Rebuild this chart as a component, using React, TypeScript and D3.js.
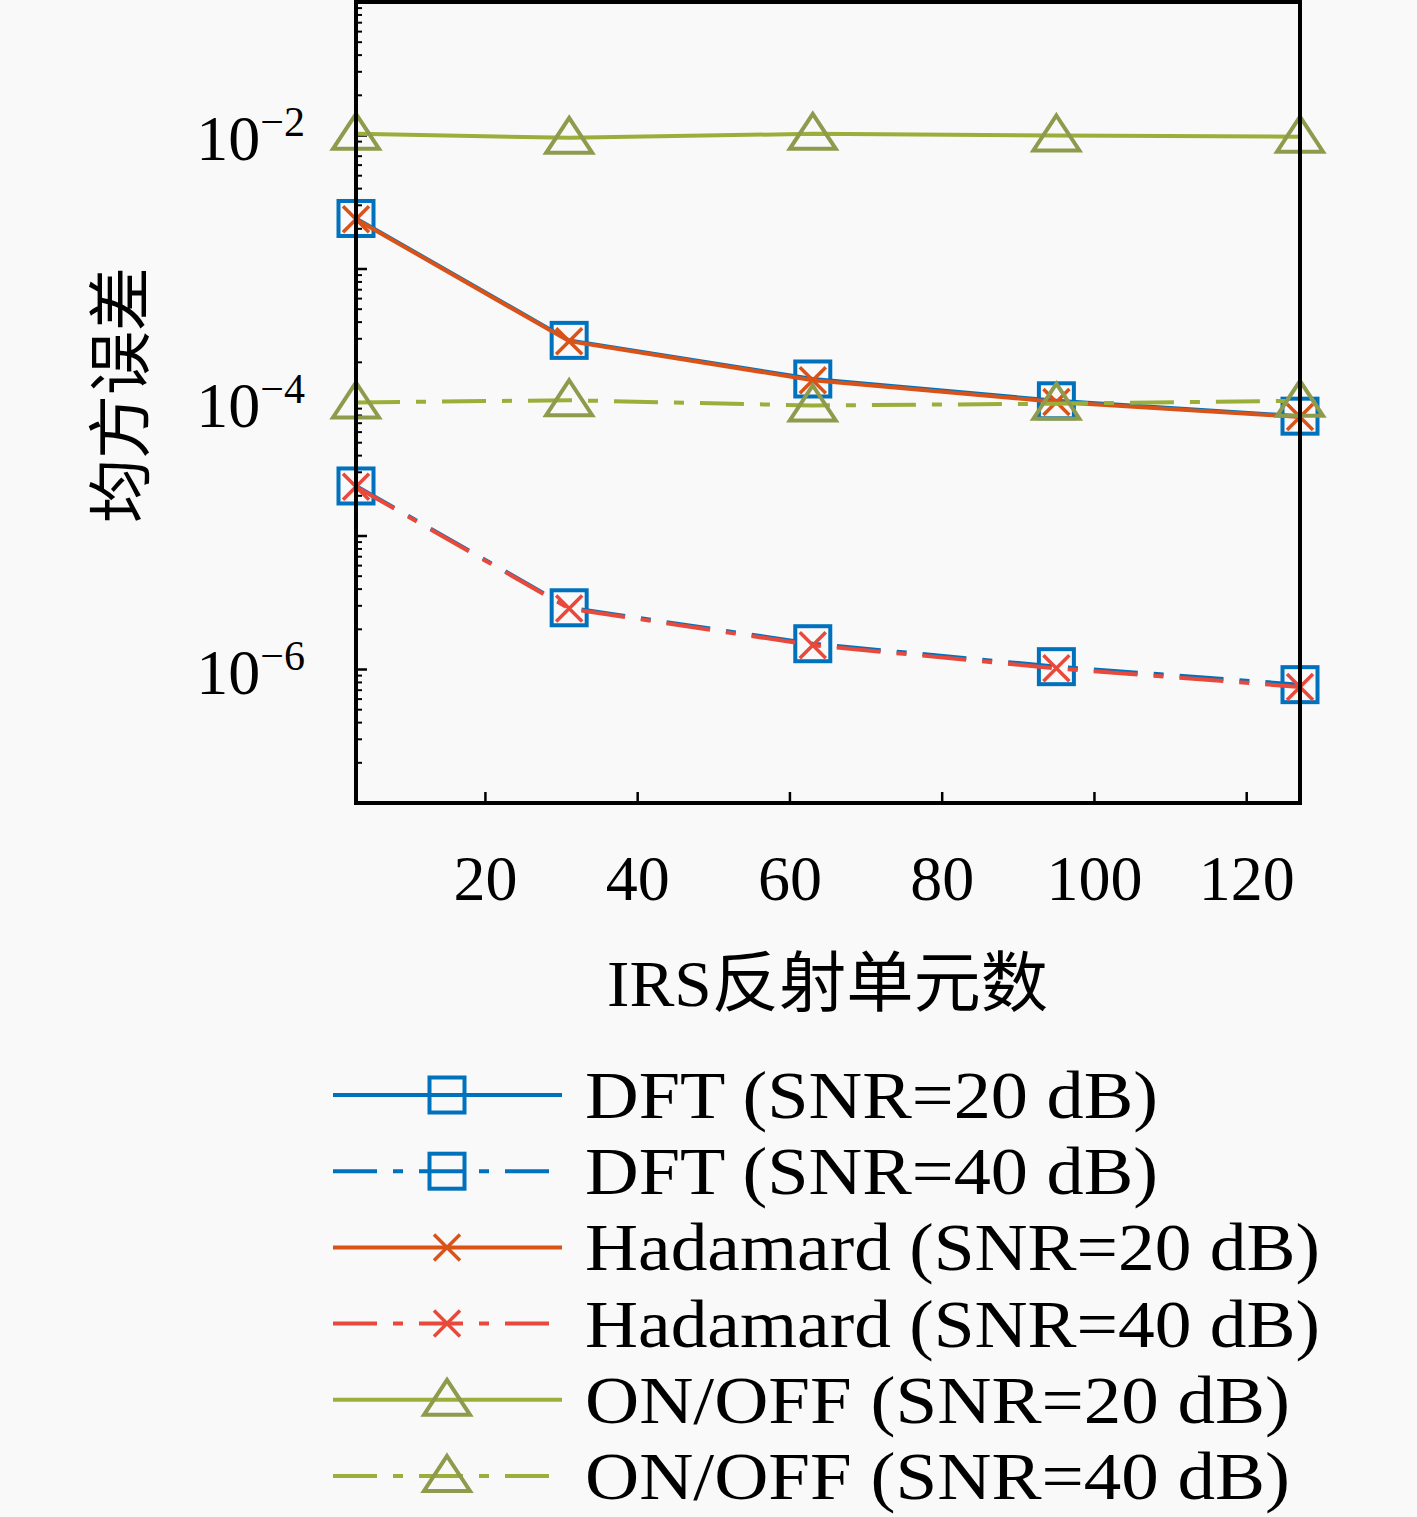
import React from "react";
import * as d3 from "d3";

// IRS reflecting elements
const elements = [3, 31, 63, 95, 127];

const dft20 = [2.39e-3, 2.92e-4, 1.5e-4, 1.03e-4, 7.9e-5];
const dft40 = [2.37e-5, 2.9e-6, 1.56e-6, 1.05e-6, 7.7e-7];
const had20 = [2.36e-3, 2.88e-4, 1.47e-4, 1.01e-4, 7.8e-5];
const had40 = [2.34e-5, 2.86e-6, 1.52e-6, 1.02e-6, 7.4e-7];
const onoff20 = [1.03e-2, 0.96e-2, 1.03e-2, 1.0e-2, 0.98e-2];
const onoff40 = [1.0e-4, 1.04e-4, 0.95e-4, 0.98e-4, 1.03e-4];

const xTicks = [20, 40, 60, 80, 100, 120];
const yLabelExps = [-2, -4, -6];

const series = [
	{ name: "DFT (SNR=20 dB)", values: dft20, color: "#0072BD", marker: "square", dashed: false },
	{ name: "DFT (SNR=40 dB)", values: dft40, color: "#0072BD", marker: "square", dashed: true },
	{ name: "Hadamard (SNR=20 dB)", values: had20, color: "#D95319", marker: "cross", dashed: false },
	{ name: "Hadamard (SNR=40 dB)", values: had40, color: "#E8493A", marker: "cross", dashed: true },
	{ name: "ON/OFF (SNR=20 dB)", values: onoff20, color: "#9BAE3A", marker: "triangle", dashed: false },
	{ name: "ON/OFF (SNR=40 dB)", values: onoff40, color: "#9BAE3A", marker: "triangle", dashed: true },
];
// rendered widths of the legend labels in the reference
const legendWidths = [573, 573, 735, 735, 705, 705];

const W = 1417;
const H = 1517;
const plot = { left: 356, right: 1300, top: 2, bottom: 803 };
const serif = "'Liberation Serif', 'DejaVu Serif', serif";
const cjk = "'Noto Sans CJK SC', sans-serif";
const dash = "44,16,10,16";

const Marker = ({ type, x, y, color }) => {
	if (type === "square") {
		const s = 35;
		return <rect x={x - s / 2} y={y - s / 2} width={s} height={s} fill="none" stroke={color} strokeWidth={4} />;
	}
	if (type === "cross") {
		const s = 13;
		return (
			<path
				d={`M${x - s},${y - s}L${x + s},${y + s}M${x - s},${y + s}L${x + s},${y - s}`}
				stroke={color}
				strokeWidth={3.5}
				fill="none"
			/>
		);
	}
	const w = 23;
	return (
		<path
			d={`M${x},${y - 20}L${x + w},${y + 15}L${x - w},${y + 15}Z`}
			fill="none"
			stroke="#8E9B4C"
			strokeWidth={4}
			strokeLinejoin="miter"
		/>
	);
};

export default function App() {
	const x = d3.scaleLinear().domain([3, 127]).range([plot.left, plot.right]);
	const y = d3.scaleLog().domain([1e-7, 1e-1]).range([plot.bottom, plot.top]);

	const line = d3
		.line<number>()
		.x((_, i) => x(elements[i]))
		.y((d) => y(d));

	const majors = d3.range(-7, 0).map((e) => Math.pow(10, e));
	const minors = [];
	d3.range(-7, -1).forEach((e) => {
		for (let k = 2; k <= 9; k++) minors.push(k * Math.pow(10, e));
	});

	const legendY = (i) => 1095 + i * 76.2;

	return (
		<svg
			width={W}
			height={H}
			style={{ position: "absolute", left: 0, top: 0, display: "block", background: "#f9f9f9" }}
		>
			<rect width={W} height={H} fill="#f9f9f9" />

			{/* minor / major y ticks */}
			{minors.map((v, i) => (
				<line key={"m" + i} x1={plot.left} x2={plot.left + 6} y1={y(v)} y2={y(v)} stroke="#000" strokeWidth={2} />
			))}
			{majors.map((v, i) => (
				<line key={"M" + i} x1={plot.left} x2={plot.left + 11} y1={y(v)} y2={y(v)} stroke="#000" strokeWidth={2.5} />
			))}
			{xTicks.map((t) => (
				<line key={t} x1={x(t)} x2={x(t)} y1={plot.bottom} y2={plot.bottom - 11} stroke="#000" strokeWidth={2.5} />
			))}

			{/* series */}
			{series.map((s) => (
				<g key={s.name}>
					<path
						d={line(s.values)}
						fill="none"
						stroke={s.color}
						strokeWidth={4}
						strokeDasharray={s.dashed ? dash : undefined}
					/>
					{s.values.map((v, i) => (
						<Marker key={i} type={s.marker} x={x(elements[i])} y={y(v)} color={s.color} />
					))}
				</g>
			))}

			{/* box */}
			<rect
				x={plot.left}
				y={plot.top}
				width={plot.right - plot.left}
				height={plot.bottom - plot.top}
				fill="none"
				stroke="#000"
				strokeWidth={4}
			/>

			{/* tick labels */}
			{xTicks.map((t) => (
				<text key={t} x={x(t)} y={900} textAnchor="middle" fontFamily={serif} fontSize={64}>
					{t}
				</text>
			))}
			{yLabelExps.map((e) => (
				<text key={e} x={305} y={y(Math.pow(10, e)) + 24} textAnchor="end" fontFamily={serif} fontSize={64}>
					10
					<tspan fontSize={42} dy={-24}>
						{"\u2212" + Math.abs(e)}
					</tspan>
				</text>
			))}

			{/* axis titles */}
			<text transform={`translate(143,395) rotate(-90)`} textAnchor="middle" fontFamily={cjk} fontSize={64}>
				均方误差
			</text>
			<text
				x={607}
				y={1006}
				fontFamily={serif}
				fontSize={66}
				textLength={441}
				lengthAdjust="spacingAndGlyphs"
			>
				IRS<tspan fontFamily={cjk}>反射单元数</tspan>
			</text>

			{/* legend */}
			{series.map((s, i) => (
				<g key={"lg" + i}>
					<line
						x1={333}
						x2={562}
						y1={legendY(i)}
						y2={legendY(i)}
						stroke={s.color}
						strokeWidth={4}
						strokeDasharray={s.dashed ? dash : undefined}
					/>
					<Marker type={s.marker} x={447} y={legendY(i)} color={s.color} />
					<text
						x={585}
						y={legendY(i) + 23}
						fontFamily={serif}
						fontSize={68}
						textLength={legendWidths[i]}
						lengthAdjust="spacingAndGlyphs"
					>
						{s.name}
					</text>
				</g>
			))}
		</svg>
	);
}
